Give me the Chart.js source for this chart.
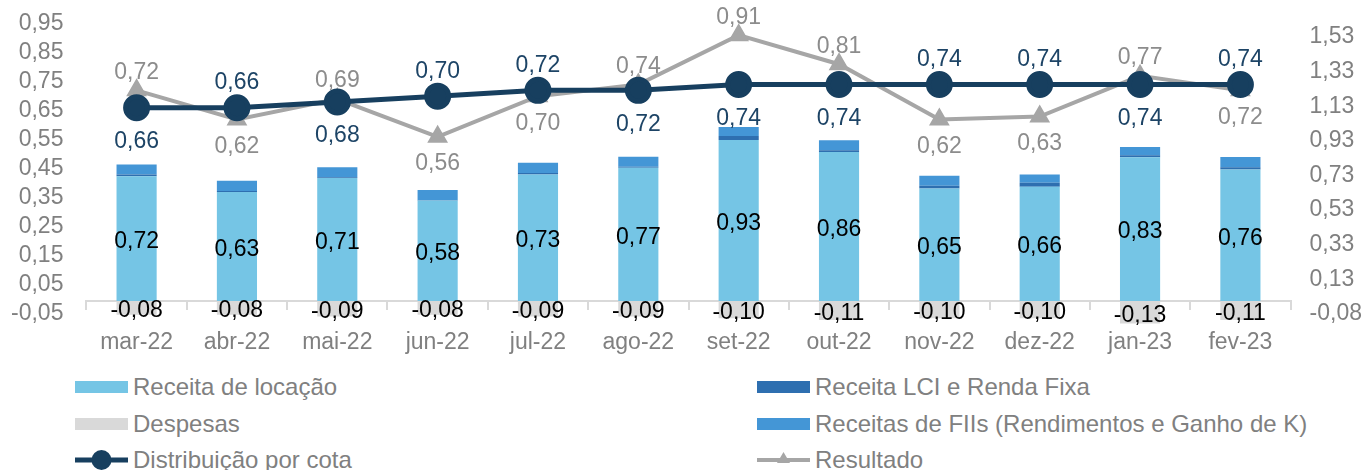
<!DOCTYPE html>
<html>
<head>
<meta charset="utf-8">
<script src="https://cdn.jsdelivr.net/npm/chart.js@4"></script>
<style>
  body { margin: 0; background: #fff; font-family: "Liberation Sans", Arial, sans-serif; }
  #wrap { position: relative; width: 1368px; height: 470px; overflow: hidden; }
  #chartBox { position: absolute; left: 0; top: 0; width: 1368px; height: 360px; }
  .leg { position: absolute; display: flex; align-items: center; color: #808080; font-size: 24px; white-space: nowrap; }
  .leg svg { margin-right: 5px; }
</style>
</head>
<body>
<div id="wrap">
  <div id="chartBox"><canvas id="myChart"></canvas></div>
  <div id="legend"></div>
</div>
<script>
const categories = ["mar-22", "abr-22", "mai-22", "jun-22", "jul-22", "ago-22", "set-22", "out-22", "nov-22", "dez-22", "jan-23", "fev-23"];
const receitaLocacao = [0.72, 0.63, 0.71, 0.58, 0.73, 0.77, 0.93, 0.86, 0.65, 0.66, 0.83, 0.76];
const receitaLci = [0.01, 0.005, 0.005, 0.003, 0.01, 0.005, 0.023, 0.01, 0.015, 0.023, 0.012, 0.013];
const receitaFiis = [0.058, 0.06, 0.058, 0.058, 0.058, 0.058, 0.052, 0.058, 0.058, 0.048, 0.048, 0.058];
const despesas = [-0.08, -0.08, -0.09, -0.08, -0.09, -0.09, -0.10, -0.11, -0.10, -0.10, -0.13, -0.11];
const distribuicao = [0.66, 0.66, 0.68, 0.70, 0.72, 0.72, 0.74, 0.74, 0.74, 0.74, 0.74, 0.74];
const resultado = [0.72, 0.62, 0.69, 0.56, 0.70, 0.74, 0.91, 0.81, 0.62, 0.63, 0.77, 0.72];
const leftTicks = [-0.05, 0.05, 0.15, 0.25, 0.35, 0.45, 0.55, 0.65, 0.75, 0.85, 0.95];
const rightTicks = [-0.075, 0.125, 0.325, 0.525, 0.725, 0.925, 1.125, 1.325, 1.525];
const rightTickLabels = ["-0,08", "0,13", "0,33", "0,53", "0,73", "0,93", "1,13", "1,33", "1,53"];

const FONT = '"Liberation Sans", Arial, sans-serif';
const canvasChart = document.getElementById("myChart");

function fmt(v) {
  return v.toFixed(2).replace(".", ",");
}

// rotulos de valores (barras e linhas)
const valueLabels = {
  id: "valueLabels",
  afterDatasetsDraw(chart) {
    const ctx = chart.ctx;
    ctx.save();
    ctx.textAlign = "center";
    ctx.textBaseline = "middle";
    ctx.font = "23px " + FONT;
    ctx.fillStyle = "#000";
    [0, 3].forEach((di) => {
      chart.getDatasetMeta(di).data.forEach((bar, i) => {
        ctx.fillText(fmt(chart.data.datasets[di].data[i]), bar.x, (bar.y + bar.base) / 2 + 3);
      });
    });
    const distMeta = chart.getDatasetMeta(4);
    const resMeta = chart.getDatasetMeta(5);
    distribuicao.forEach((v, i) => {
      const distUp = v > resultado[i];
      const p = distMeta.data[i];
      const q = resMeta.data[i];
      ctx.fillStyle = "#1D4466";
      ctx.fillText(fmt(v), p.x, p.y + (distUp ? -25 : 34));
      ctx.fillStyle = "#8C8C8C";
      ctx.fillText(fmt(resultado[i]), q.x, q.y + (distUp ? 27 : -18));
    });
    ctx.restore();
  },
};

const axisFont = { family: FONT, size: 23 };

const myChart = new Chart(canvasChart, {
  type: "bar",
  data: {
    labels: categories,
    datasets: [
      { label: "Receita de locação", data: receitaLocacao, backgroundColor: "#75C5E5", yAxisID: "yR", order: 1 },
      { label: "Receita LCI e Renda Fixa", data: receitaLci, backgroundColor: "#2E6FB0", yAxisID: "yR", order: 1 },
      { label: "Receitas de FIIs (Rendimentos e Ganho de K)", data: receitaFiis, backgroundColor: "#4496D6", yAxisID: "yR", order: 1 },
      { label: "Despesas", data: despesas, backgroundColor: "#D9D9D9", yAxisID: "yR", order: 1, clip: false },
      {
        type: "line", label: "Distribuição por cota", data: distribuicao, yAxisID: "yL", order: 0,
        borderColor: "#173F5F", backgroundColor: "#173F5F", borderWidth: 5,
        pointRadius: 11, pointHoverRadius: 11, pointStyle: "circle",
      },
      {
        type: "line", label: "Resultado", data: resultado, yAxisID: "yL", order: 0,
        borderColor: "#A6A6A6", backgroundColor: "#A6A6A6", borderWidth: 4,
        pointRadius: 8, pointHoverRadius: 8, pointStyle: "triangle",
      },
    ],
  },
  options: {
    responsive: true,
    maintainAspectRatio: false,
    animation: false,
    layout: { padding: { left: 11, right: 6, top: 0, bottom: 46 } },
    datasets: { bar: { barPercentage: 0.4, categoryPercentage: 1 } },
    plugins: { legend: { display: false }, tooltip: { enabled: false } },
    scales: {
      x: {
        stacked: true,
        position: { yR: 0 },
        border: { color: "#D9D9D9", width: 2 },
        grid: { offset: true, drawOnChartArea: false, tickLength: 8, color: "#D9D9D9", lineWidth: 2 },
        ticks: { color: "#808080", font: axisFont, padding: 20, maxRotation: 0 },
      },
      yL: {
        position: "left",
        stacked: false,
        min: -0.05,
        max: 0.976,
        afterBuildTicks: (scale) => { scale.ticks = leftTicks.map((v) => ({ value: v })); },
        // marcas invisiveis so para afastar os rotulos do grafico
        grid: { drawOnChartArea: false, drawTicks: true, tickLength: 23, color: "rgba(0,0,0,0)" },
        border: { display: false },
        ticks: { color: "#808080", font: axisFont, padding: 0, autoSkip: false, callback: (v) => fmt(v) },
      },
      yR: {
        position: "right",
        stacked: true,
        min: -0.075,
        max: 1.646,
        afterBuildTicks: (scale) => { scale.ticks = rightTicks.map((v) => ({ value: v })); },
        grid: { drawOnChartArea: false, drawTicks: true, tickLength: 19, color: "rgba(0,0,0,0)" },
        border: { display: false },
        ticks: { color: "#808080", font: axisFont, padding: 0, autoSkip: false,
          callback: (v, i) => rightTickLabels[i] },
      },
    },
  },
  plugins: [valueLabels],
});

// legenda em duas colunas
const legendItems = [
  { text: "Receita de locação", kind: "box", color: "#75C5E5", x: 75, y: 387 },
  { text: "Receita LCI e Renda Fixa", kind: "box", color: "#2E6FB0", x: 757, y: 387 },
  { text: "Despesas", kind: "box", color: "#D9D9D9", x: 75, y: 424 },
  { text: "Receitas de FIIs (Rendimentos e Ganho de K)", kind: "box", color: "#4496D6", x: 757, y: 424 },
  { text: "Distribuição por cota", kind: "circle", color: "#173F5F", x: 75, y: 460 },
  { text: "Resultado", kind: "triangle", color: "#A6A6A6", x: 757, y: 460 },
];

function legendIcon(item) {
  if (item.kind === "box") {
    return `<svg width="53" height="16"><rect x="0" y="2" width="53" height="12" fill="${item.color}"/></svg>`;
  }
  if (item.kind === "circle") {
    return `<svg width="53" height="24"><line x1="0" y1="12" x2="53" y2="12" stroke="${item.color}" stroke-width="5"/><circle cx="26.5" cy="12" r="10" fill="${item.color}"/></svg>`;
  }
  return `<svg width="53" height="24"><line x1="0" y1="12" x2="53" y2="12" stroke="${item.color}" stroke-width="4"/><polygon points="26.5,4 33,15 20,15" fill="${item.color}"/></svg>`;
}

const legendBox = document.getElementById("legend");
legendItems.forEach((item) => {
  const el = document.createElement("div");
  el.className = "leg";
  el.style.left = item.x + "px";
  el.style.top = item.y - 14 + "px";
  el.style.height = "28px";
  el.innerHTML = legendIcon(item) + "<span>" + item.text + "</span>";
  legendBox.appendChild(el);
});
</script>
</body>
</html>
